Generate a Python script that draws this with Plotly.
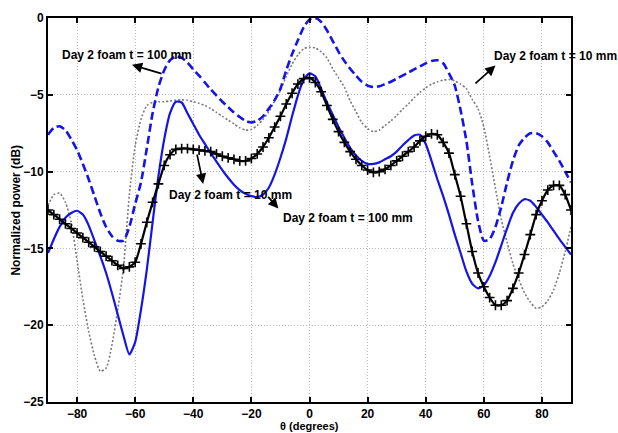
import plotly.graph_objects as go

# Angle samples (degrees)
theta = list(range(-90, 91, 2))

# Normalized power (dB) for each measured pattern
dashed_blue = [
    -7.6, -7.15, -7.05, -7.3, -7.9, -8.6, -9.5, -10.5, -11.6, -12.7,
    -13.6, -14.2, -14.5, -14.5, -13.6, -12.1, -10.7, -8.5, -6.2, -4.5,
    -3.4, -2.75, -2.5, -2.6, -2.9, -3.35, -3.75, -4.2, -4.65, -5.05,
    -5.45, -5.8, -6.15, -6.45, -6.7, -6.8, -6.7, -6.4, -5.9, -5.35,
    -4.6, -3.4, -2.35, -1.45, -0.6, -0.1, 0.0, -0.25, -0.8, -1.5,
    -2.2, -2.8, -3.3, -3.75, -4.15, -4.4, -4.5, -4.45, -4.3, -4.15,
    -3.95, -3.75, -3.55, -3.35, -3.15, -2.95, -2.8, -2.75, -2.95, -3.6,
    -4.4, -6.0, -8.0, -10.8, -13.2, -14.5, -14.4, -13.6, -12.3, -10.7,
    -9.3, -8.3, -7.8, -7.5, -7.5, -7.7, -8.1, -8.7, -9.3, -10.0,
    -10.7,
]

dotted_gray = [
    -12.2, -11.5, -11.4, -12.0, -13.3, -15.8, -18.3, -20.4, -22.0, -23.0,
    -22.8, -21.3, -19.0, -16.2, -11.5, -8.3, -6.6, -5.7, -5.5, -5.45,
    -5.45, -5.4, -5.35, -5.33, -5.35, -5.45, -5.55, -5.7, -5.9, -6.15,
    -6.4, -6.65, -6.9, -7.15, -7.3, -7.25, -7.0, -6.6, -6.1, -5.4,
    -4.7, -3.8, -3.0, -2.4, -2.0, -1.9, -1.95, -2.2, -2.6, -3.3,
    -3.9, -4.5, -5.4, -6.1, -6.8, -7.2, -7.4, -7.3, -7.0, -6.7,
    -6.35, -5.95, -5.6, -5.2, -4.85, -4.55, -4.3, -4.15, -4.05, -4.0,
    -4.1, -4.3, -4.6, -5.3, -5.9, -7.1, -9.0, -11.1, -13.1, -14.6,
    -16.0, -17.0, -17.9, -18.5, -18.9, -18.8, -18.4, -17.7, -16.6, -15.2,
    -13.6,
]

solid_blue = [
    -15.3, -14.4, -13.6, -13.0, -12.7, -12.55, -12.8, -13.5, -14.5, -15.5,
    -16.6, -17.9, -19.3, -20.7, -21.9, -21.1, -19.0, -16.4, -13.3, -10.3,
    -7.9, -6.2, -5.45, -5.5, -6.2, -6.9, -7.6, -8.2, -8.8, -9.35,
    -9.9, -10.4, -10.85, -11.2, -11.45, -11.6, -11.65, -11.5, -11.05, -10.2,
    -9.1, -7.85, -6.4, -5.05, -4.0, -3.6, -3.8, -4.6, -5.5, -6.3,
    -7.1, -7.8, -8.45, -8.95, -9.3, -9.5, -9.5, -9.4, -9.2, -9.0,
    -8.7, -8.3, -7.95, -7.65, -7.6, -8.2, -9.3, -10.5, -11.6, -12.8,
    -14.1, -15.3, -16.5, -17.3, -17.6, -17.4, -16.8, -15.9, -14.8, -13.7,
    -12.7, -12.1, -11.8, -11.9, -12.3, -12.8, -13.3, -13.85, -14.4, -14.9,
    -15.4,
]

black_marked = [
    -12.5, -12.8, -13.1, -13.4, -13.7, -14.0, -14.3, -14.6, -14.9, -15.2,
    -15.5, -15.8, -16.1, -16.3, -16.2, -15.9, -14.7, -13.3, -12.0, -10.8,
    -9.6, -8.9, -8.55, -8.5, -8.5, -8.55, -8.6, -8.65, -8.7, -8.85,
    -9.0, -9.1, -9.2, -9.3, -9.3, -9.15, -8.85, -8.4, -7.8, -7.1,
    -6.4, -5.6, -4.9, -4.3, -3.95, -3.9, -4.2, -4.8, -5.7, -6.6,
    -7.4, -8.1, -8.7, -9.2, -9.6, -9.9, -10.05, -10.0, -9.85, -9.6,
    -9.3, -9.0, -8.7, -8.4, -8.0, -7.7, -7.55, -7.6, -8.1, -8.8,
    -10.2, -11.6, -13.4, -15.2, -16.6, -17.5, -18.2, -18.7, -18.7, -18.4,
    -17.6, -16.6, -15.4, -14.1, -12.8, -11.9, -11.2, -10.9, -10.9, -11.5,
    -12.5,
]

x_ticks = [-80, -60, -40, -20, 0, 20, 40, 60, 80]
y_ticks = [0, -5, -10, -15, -20, -25]

# Callout labels: (text, text x, text y, arrow tail x, tail y, arrow head x, head y)
callouts = [
    ("Day 2 foam t = 100 mm", -62.7, -2.4, -50.4, -3.65, -61.1, -3.05),
    ("Day 2 foam t = 10 mm", 84.5, -2.45, 56.6, -4.35, 64.0, -3.1),
    ("Day 2 foam t = 10 mm", -27.3, -11.5, -38.8, -8.8, -36.6, -10.8),
    ("Day 2 foam t = 100 mm", 13.4, -13.0, -14.7, -11.55, -10.7, -12.4),
]

BLUE = "#1414e6"
FONT = "Liberation Sans, Arial, sans-serif"

fig = go.Figure()

fig.add_trace(go.Scatter(
    x=theta, y=dotted_gray, mode="lines",
    line=dict(color="#7a7a7a", width=1.6, dash="2px,2px", shape="spline", smoothing=0.6),
))
fig.add_trace(go.Scatter(
    x=theta, y=dashed_blue, mode="lines",
    line=dict(color=BLUE, width=2.6, dash="8px,4px", shape="spline", smoothing=0.6),
))
fig.add_trace(go.Scatter(
    x=theta, y=solid_blue, mode="lines",
    line=dict(color=BLUE, width=2.2, shape="spline", smoothing=0.6),
))
fig.add_trace(go.Scatter(
    x=theta, y=black_marked, mode="lines+markers",
    line=dict(color="black", width=2.2, shape="spline", smoothing=0.6),
    marker=dict(symbol="cross-thin", size=7, line=dict(color="black", width=1.6)),
))

annotations = []
for text, tx, ty, ax, ay, hx, hy in callouts:
    annotations.append(dict(
        x=tx, y=ty, xref="x", yref="y", text=text, showarrow=False,
        font=dict(family=FONT, size=12, color="black", weight="bold"),
        xanchor="center", yanchor="middle",
    ))
    annotations.append(dict(
        x=hx, y=hy, xref="x", yref="y", ax=ax, ay=ay, axref="x", ayref="y",
        text="", showarrow=True, arrowhead=2, arrowsize=1.2, arrowwidth=1.7,
        arrowcolor="black", standoff=0, startstandoff=0,
    ))

# Axis titles
annotations.append(dict(
    x=0.5, y=-0.0627, xref="paper", yref="paper", text="\u03b8 (degrees)",
    showarrow=False, xanchor="center", yanchor="middle",
    font=dict(family=FONT, size=11, color="black", weight="bold"),
))
annotations.append(dict(
    x=-0.062, y=0.5, xref="paper", yref="paper", text="Normalized power (dB)",
    showarrow=False, xanchor="center", yanchor="middle", textangle=-90,
    font=dict(family=FONT, size=12, color="black", weight="bold"),
))

axis_common = dict(
    showgrid=True, gridcolor="#b8b8b8", gridwidth=1, griddash="1px,2px",
    showline=True, linecolor="black", linewidth=2, mirror="ticks",
    ticks="inside", ticklen=5, tickwidth=1.5, tickcolor="black",
    zeroline=False,
    tickfont=dict(family=FONT, size=12, color="black", weight="bold"),
)

fig.update_layout(
    width=618, height=433,
    margin=dict(l=48, r=47, t=11, b=31),
    paper_bgcolor="white", plot_bgcolor="white",
    showlegend=False,
    annotations=annotations,
    xaxis=dict(range=[-90, 90], tickvals=x_ticks, **axis_common),
    yaxis=dict(range=[-25, 0], tickvals=y_ticks, **axis_common),
)

fig.write_html("out.html")
